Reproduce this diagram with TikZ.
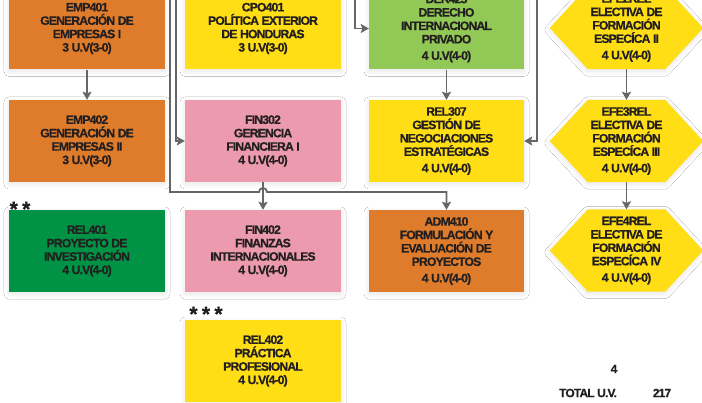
\documentclass[tikz,border=0pt]{standalone}
\usepackage{fontspec}
\newfontfamily\lab[LetterSpace=-7,BoldFeatures={FakeBold=0.6}]{Liberation Sans}
\usetikzlibrary{arrows.meta,backgrounds,shadows.blur}
\definecolor{org}{HTML}{DE7C2C}
\definecolor{yel}{HTML}{FFDE15}
\definecolor{pnk}{HTML}{EC9BAE}
\definecolor{lgreen}{HTML}{92C856}
\definecolor{dgreen}{HTML}{009245}
\definecolor{lgray}{HTML}{666666}
\definecolor{txt}{HTML}{231F20}
\tikzset{
  shad/.style={blur shadow={shadow xshift=0pt, shadow yshift=-2pt, shadow blur radius=5pt, shadow blur steps=8, shadow opacity=10}},
  cbox/.style={minimum width=156pt, minimum height=82pt, inner sep=0pt, align=center, text=txt,
    font=\lab\bfseries\fontsize{12.2}{13.4}\selectfont, shad},
  hexnode/.style={minimum width=77pt, minimum height=82pt, inner sep=0pt, align=center, text=txt,
    font=\lab\bfseries\fontsize{12.2}{13.4}\selectfont},
  ln/.style={draw=lgray, line width=1.8pt},
  arr/.style={ln, -{Stealth[width=9pt,length=8pt,inset=1.5pt]}},
  note/.style={text=txt, font=\lab\bfseries\fontsize{12}{13}\selectfont, inner sep=0pt},
  stars/.style={text=txt, font=\lab\bfseries\fontsize{21}{21}\selectfont, inner sep=0pt},
}
\begin{document}
\begin{tikzpicture}[x=1pt,y=-1pt]
\useasboundingbox (0,0) rectangle (702,403);
\clip (0,0) rectangle (702,403);
% column 1
\node[cbox, fill=org] (emp401) at (87,28.5) {EMP401\\GENERACIÓN DE\\EMPRESAS I\\3 U.V(3-0)};
\node[cbox, fill=org] (emp402) at (87,141) {EMP402\\GENERACIÓN DE\\EMPRESAS II\\3 U.V(3-0)};
\node[cbox, fill=dgreen] (rel401) at (87,251) {REL401\\PROYECTO DE\\INVESTIGACIÓN\\4 U.V(4-0)};
% column 2
\node[cbox, fill=yel] (cpo401) at (263,28.5) {CPO401\\POLÍTICA EXTERIOR\\DE HONDURAS\\3 U.V(3-0)};
\node[cbox, fill=pnk] (fin302) at (263,141) {FIN302\\GERENCIA\\FINANCIERA I\\4 U.V(4-0)};
\node[cbox, fill=pnk] (fin402) at (263,251) {FIN402\\FINANZAS\\INTERNACIONALES\\4 U.V(4-0)};
\node[cbox, fill=yel] (rel402) at (263,361) {REL402\\PRÁCTICA\\PROFESIONAL\\4 U.V(4-0)};
% column 3
\node[cbox, fill=lgreen, minimum width=155pt] (der425) at (446.5,28.5) {DER425\\DERECHO\\INTERNACIONAL\\PRIVADO\\[3pt]4 U.V(4-0)};
\node[cbox, fill=yel, minimum width=155pt] (rel307) at (446.5,141) {REL307\\GESTIÓN DE\\NEGOCIACIONES\\ESTRATÉGICAS\\[3pt]4 U.V(4-0)};
\node[cbox, fill=org, minimum width=155pt] (adm410) at (446.5,251) {ADM410\\FORMULACIÓN Y\\EVALUACIÓN DE\\PROYECTOS\\[3pt]4 U.V(4-0)};
% column 4 (hexagons)
\node[hexnode] (efe2) at (626.5,28) {EFE2REL\\ELECTIVA DE\\FORMACIÓN\\ESPECÍCA II\\[3pt]4 U.V(4-0)};
\node[hexnode] (efe3) at (626.5,141) {EFE3REL\\ELECTIVA DE\\FORMACIÓN\\ESPECÍCA III\\[3pt]4 U.V(4-0)};
\node[hexnode] (efe4) at (626.5,250.5) {EFE4REL\\ELECTIVA DE\\FORMACIÓN\\ESPECÍCA IV\\[3pt]4 U.V(4-0)};
\begin{scope}[on background layer]
\fill[white] (0,0) rectangle (702,403);
\foreach \n in {efe2,efe3,efe4}
  \fill[yel, shad] ([xshift=-38pt]\n.west) -- (\n.north west) -- (\n.north east)
     -- ([xshift=38pt]\n.east) -- (\n.south east) -- (\n.south west) -- cycle;
\end{scope}
% free ends at the top edge
\coordinate (t1) at (170,-2);
\coordinate (t2) at (176,-2);
\coordinate (t3) at (355,-2);
\coordinate (t4) at (537,-2);
% connectors
\draw[arr] (emp401) -- (emp402);
\draw[arr] (der425) -- (rel307);
\draw[arr] (fin302) -- (fin402);
\draw[arr] (efe2) -- (efe3);
\draw[arr] (efe3) -- (efe4);
\draw[arr] (t2) |- (fin302.west);
\draw[arr] (t3) |- (der425.west);
\draw[arr] (t4) |- (rel307.east);
\draw[arr] (t1) -- (170,192) -- (259,192) arc[start angle=180, end angle=0, radius=4pt] -- (adm410.north |- 0,192) -- (adm410.north);
% notes
\node[stars] (s2) at (20,209) {* *};
\node[stars] (s3) at (206,314) {* * *};
\node[note] (four) at (614,369) {4};
\node[note] (tot) at (588,393) {TOTAL U.V.};
\node[note] (sum) at (662,393) {217};
\end{tikzpicture}
\end{document}
